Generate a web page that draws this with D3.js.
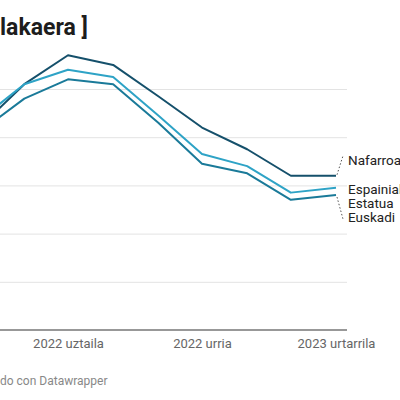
<!DOCTYPE html>
<html>
<head>
<meta charset="utf-8">
<script src="https://cdn.jsdelivr.net/npm/d3@7"></script>
<style>
  html, body { margin: 0; padding: 0; background: #fff; overflow: hidden; }
  svg { display: block; font-family: Roboto, "Noto Sans", sans-serif; }
</style>
</head>
<body>
<svg id="chart" width="400" height="400"></svg>
<script>
// monthly values, %
var months = ["2022-05", "2022-06", "2022-07", "2022-08", "2022-09", "2022-10", "2022-11", "2022-12", "2023-01"];
var nafarroa = [8.4, 10.2, 11.4, 11.0, 9.7, 8.4, 7.5, 6.4, 6.4];
var espainia = [8.7, 10.2, 10.8, 10.5, 8.9, 7.3, 6.8, 5.7, 5.9];
var euskadi  = [8.2, 9.6, 10.4, 10.2, 8.6, 6.9, 6.5, 5.4, 5.6];

var xTicks = ["2022-07", "2022-10", "2023-01"];
var xTickLabels = ["2022 uztaila", "2022 urria", "2023 urtarrila"];
var yTicks = [2, 4, 6, 8, 10];

var parse = d3.timeParse("%Y-%m");

var svg = d3.select("#chart");

var x = d3.scaleTime()
    .domain([parse("2022-07"), parse("2023-01")])
    .range([68, 336]);

var y = d3.scaleLinear()
    .domain([0, 10])
    .range([330, 89]);

// title (cropped)
svg.append("text")
    .attr("x", 0)
    .attr("y", 35)
    .style("font-size", "23px")
    .style("font-weight", "700")
    .style("fill", "#1d1d1d")
    .text("lakaera ]");

// grid
svg.append("g")
    .attr("transform", "translate(347,0)")
    .call(d3.axisLeft(y).tickValues(yTicks).tickSize(360).tickFormat(""))
    .call(g => g.select(".domain").remove())
    .call(g => g.selectAll(".tick line").attr("stroke", "#e3e3e3").attr("stroke-width", 1));

// baseline
svg.append("line")
    .attr("x1", -10)
    .attr("x2", 347)
    .attr("y1", y(0))
    .attr("y2", y(0))
    .attr("stroke", "#333")
    .attr("stroke-width", 1.2);

// x axis labels
svg.append("g")
    .attr("transform", "translate(0," + y(0) + ")")
    .call(d3.axisBottom(x)
        .tickValues(xTicks.map(parse))
        .tickSize(0)
        .tickPadding(9)
        .tickFormat((d, i) => xTickLabels[i]))
    .call(g => g.select(".domain").remove())
    .call(g => g.selectAll("text")
        .style("font-family", "Roboto, sans-serif")
        .style("font-size", "13px")
        .style("fill", "#666"));

var series = [
    { name: "Nafarroa", values: nafarroa, color: "#15506b" },
    { name: "Espainia", values: espainia, color: "#2ea3c6" },
    { name: "Euskadi", values: euskadi, color: "#1a7a99" }
];

var line = d3.line()
    .x((d, i) => x(parse(months[i])))
    .y(d => y(d));

svg.selectAll("path.series")
    .data(series)
    .join("path")
    .attr("class", "series")
    .attr("fill", "none")
    .attr("stroke", d => d.color)
    .attr("stroke-width", 2)
    .attr("stroke-linejoin", "round")
    .attr("d", d => line(d.values));

// direct labels
var last = months.length - 1;
var lx = x(parse(months[last]));
var labelStyle = sel => sel
    .style("font-size", "13.5px")
    .style("fill", "#222");

var nafY = y(nafarroa[last]);
svg.append("line")
    .attr("x1", lx + 1).attr("y1", nafY - 1)
    .attr("x2", lx + 7).attr("y2", nafY - 20)
    .attr("stroke", "#555").attr("stroke-width", 1).attr("stroke-dasharray", "1.5,2");
svg.append("text").attr("x", lx + 12).attr("y", nafY - 11).call(labelStyle).text("Nafarroa");

var espY = y(espainia[last]);
svg.append("text").attr("x", lx + 12).attr("y", espY + 6).call(labelStyle).text("Espainiako");
svg.append("text").attr("x", lx + 12).attr("y", espY + 20).call(labelStyle).text("Estatua");

var eusY = y(euskadi[last]);
svg.append("line")
    .attr("x1", lx + 1).attr("y1", eusY + 2)
    .attr("x2", lx + 7).attr("y2", eusY + 24)
    .attr("stroke", "#555").attr("stroke-width", 1).attr("stroke-dasharray", "1.5,2");
svg.append("text").attr("x", lx + 12).attr("y", eusY + 27).call(labelStyle).text("Euskadi");

// footer (cropped)
svg.append("text")
    .attr("x", 0)
    .attr("y", 385)
    .style("font-size", "12px")
    .style("fill", "#888")
    .text("do con Datawrapper");
</script>
</body>
</html>
